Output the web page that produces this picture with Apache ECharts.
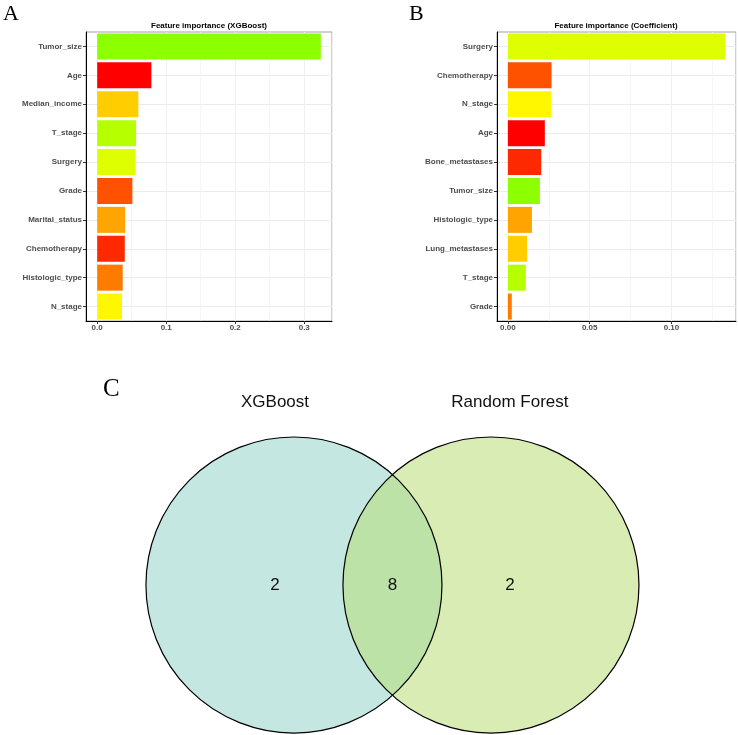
<!DOCTYPE html>
<html>
<head>
<meta charset="utf-8">
<script src="https://cdn.jsdelivr.net/npm/echarts@6/dist/echarts.min.js"></script>
<style>
  html, body { margin: 0; padding: 0; background: #fff; }
  #chart { width: 738px; height: 735px; }
</style>
</head>
<body>
<div id="chart"></div>
<script>
// A: XGBoost feature importance (top to bottom)
const xgbFeatures = ['Tumor_size', 'Age', 'Median_income', 'T_stage', 'Surgery', 'Grade',
  'Marital_status', 'Chemotherapy', 'Histologic_type', 'N_stage'];
const xgbImportance = [0.324, 0.0785, 0.0597, 0.0564, 0.0554, 0.051, 0.0405, 0.040, 0.037, 0.036];

// B: coefficient feature importance (top to bottom)
const coefFeatures = ['Surgery', 'Chemotherapy', 'N_stage', 'Age', 'Bone_metastases', 'Tumor_size',
  'Histologic_type', 'Lung_metastases', 'T_stage', 'Grade'];
const coefImportance = [0.1328, 0.0267, 0.0265, 0.0226, 0.0204, 0.0196, 0.0147, 0.0118, 0.011, 0.0024];

// C: venn of selected features
const vennSets = ['XGBoost', 'Random Forest'];
const vennCounts = [2, 8, 2]; // only XGBoost, both, only Random Forest

// colour by alphabetical rank of the feature name, red -> green
function featureColors(names) {
  const sorted = names.slice().sort();
  return names.map(n => {
    const h = sorted.indexOf(n) * 87 / (names.length - 1);
    return 'hsl(' + h.toFixed(1) + ',100%,50%)';
  });
}

const SANS = '"Liberation Sans", Arial, sans-serif';
const SERIF = '"Liberation Serif", "Times New Roman", serif';
const GRID_COL = '#ebebeb';

const xgbMax = Math.max(...xgbImportance);
const coefMax = Math.max(...coefImportance);

// value axis with ggplot-like 5% padding
function valueAxis(grid, maxV, step, digits) {
  return {
    type: 'value', gridIndex: grid,
    min: -0.05 * maxV, max: 1.05 * maxV,
    minInterval: step, maxInterval: step,
    axisLine: { show: true, onZero: false, lineStyle: { color: '#000', width: 1 } },
    axisTick: { show: true, length: 3, lineStyle: { color: '#333' } },
    axisLabel: {
      margin: 3, fontSize: 8, fontWeight: 'bold', color: '#4d4d4d', fontFamily: SANS,
      showMinLabel: false, showMaxLabel: false,
      formatter: v => v.toFixed(digits)
    },
    splitLine: { show: true, lineStyle: { color: GRID_COL, width: 1 } }
  };
}
// extra hidden axis only for the minor gridlines
function minorAxis(grid, maxV, step) {
  return {
    type: 'value', gridIndex: grid, position: 'top',
    min: -0.05 * maxV, max: 1.05 * maxV,
    minInterval: step / 2, maxInterval: step / 2,
    axisLine: { show: false, onZero: false }, axisTick: { show: false }, axisLabel: { show: false },
    splitLine: { show: true, lineStyle: { color: '#f2f2f2', width: 0.7 } }
  };
}
function catAxis(grid, names) {
  return {
    type: 'category', gridIndex: grid, data: names, inverse: true,
    axisLine: { show: true, onZero: false, lineStyle: { color: '#000', width: 1 } },
    axisTick: { show: true, alignWithLabel: true, length: 3, lineStyle: { color: '#333' } },
    axisLabel: { margin: 4, fontSize: 8, fontWeight: 'bold', color: '#4d4d4d', fontFamily: SANS },
    splitLine: { show: true, alignWithLabel: true, lineStyle: { color: GRID_COL, width: 1 } }
  };
}
function barSeries(idx, names, values) {
  const cols = featureColors(names);
  return {
    type: 'bar', xAxisIndex: idx * 2, yAxisIndex: idx,
    barCategoryGap: '10%',
    data: values.map((v, i) => ({ value: v, itemStyle: { color: cols[i] } })),
    z: 3
  };
}

// venn layout (data units: circle radius = 1)
const vennR = 1;
const vennD = 1.331;
const vennShift = 0.128;
const vennTitleY = 1.236;

function renderVenn(params, api) {
  const ca = api.coord([0, 0]);
  const cb = api.coord([vennD, 0]);
  const r = api.size([vennR, 0])[0];
  const th = Math.acos(vennD / (2 * vennR));
  const pts = [];
  const steps = 60;
  for (let i = 0; i <= steps; i++) {
    const t = -th + 2 * th * i / steps;
    pts.push(api.coord([vennR * Math.cos(t), vennR * Math.sin(t)]));
  }
  for (let i = 0; i <= steps; i++) {
    const t = Math.PI - th + 2 * th * i / steps;
    pts.push(api.coord([vennD + vennR * Math.cos(t), vennR * Math.sin(t)]));
  }
  const txt = (pos, s) => ({
    type: 'text', x: pos[0], y: pos[1],
    style: { text: s, fill: '#111', font: '17px ' + SANS, align: 'center', verticalAlign: 'middle' }
  });
  return {
    type: 'group',
    children: [
      { type: 'circle', shape: { cx: ca[0], cy: ca[1], r: r }, style: { fill: '#c5e7e1' } },
      { type: 'circle', shape: { cx: cb[0], cy: cb[1], r: r }, style: { fill: '#d9ecb4' } },
      { type: 'polygon', shape: { points: pts }, style: { fill: '#bce2a7' } },
      { type: 'circle', shape: { cx: ca[0], cy: ca[1], r: r }, style: { fill: 'none', stroke: '#000', lineWidth: 1.2 } },
      { type: 'circle', shape: { cx: cb[0], cy: cb[1], r: r }, style: { fill: 'none', stroke: '#000', lineWidth: 1.2 } },
      txt(api.coord([-vennShift, vennTitleY]), vennSets[0]),
      txt(api.coord([vennD + vennShift, vennTitleY]), vennSets[1]),
      txt(api.coord([-vennShift, 0]), String(vennCounts[0])),
      txt(api.coord([vennD / 2, 0]), String(vennCounts[1])),
      txt(api.coord([vennD + vennShift, 0]), String(vennCounts[2]))
    ]
  };
}

const chart = echarts.init(document.getElementById('chart'), null, { renderer: 'canvas' });

const letter = (s, x, y, size) => ({
  type: 'text', x: x, y: y,
  style: { text: s, fill: '#000', font: size + 'px ' + SERIF,
    align: 'left', textAlign: 'left', verticalAlign: 'middle', textVerticalAlign: 'middle' }
});
const ptitle = (s, x, y) => ({
  type: 'text', x: x, y: y,
  style: { text: s, fill: '#000', font: 'bold 8px ' + SANS,
    align: 'center', textAlign: 'center', verticalAlign: 'middle', textVerticalAlign: 'middle' }
});

const option = {
  backgroundColor: '#fff',
  animation: false,
  grid: [
    { left: 86, top: 32, right: 406, bottom: 414, show: true, borderColor: '#a0a0a0', borderWidth: 1, backgroundColor: '#fff' },
    { left: 497, top: 32, right: 2, bottom: 414, show: true, borderColor: '#a0a0a0', borderWidth: 1, backgroundColor: '#fff' },
    { left: 0, top: 350, right: 0, bottom: 0 }
  ],
  xAxis: [
    valueAxis(0, xgbMax, 0.1, 1),
    minorAxis(0, xgbMax, 0.1),
    valueAxis(1, coefMax, 0.05, 2),
    minorAxis(1, coefMax, 0.05),
    { type: 'value', gridIndex: 2, min: -1.986, max: 3.0, show: false }
  ],
  yAxis: [
    catAxis(0, xgbFeatures),
    catAxis(1, coefFeatures),
    { type: 'value', gridIndex: 2, min: -1.0135, max: 1.588, show: false }
  ],
  series: [
    barSeries(0, xgbFeatures, xgbImportance),
    barSeries(1, coefFeatures, coefImportance),
    {
      type: 'custom', xAxisIndex: 4, yAxisIndex: 2, clip: false,
      data: [[0, 0]],
      renderItem: renderVenn
    }
  ],
  graphic: [
    letter('A', 3, 14, 22),
    letter('B', 409, 14, 22),
    letter('C', 103, 389, 25),
    ptitle('Feature importance (XGBoost)', 209, 25.5),
    ptitle('Feature importance (Coefficient)', 616, 25.5)
  ]
};

chart.setOption(option);
</script>
</body>
</html>
